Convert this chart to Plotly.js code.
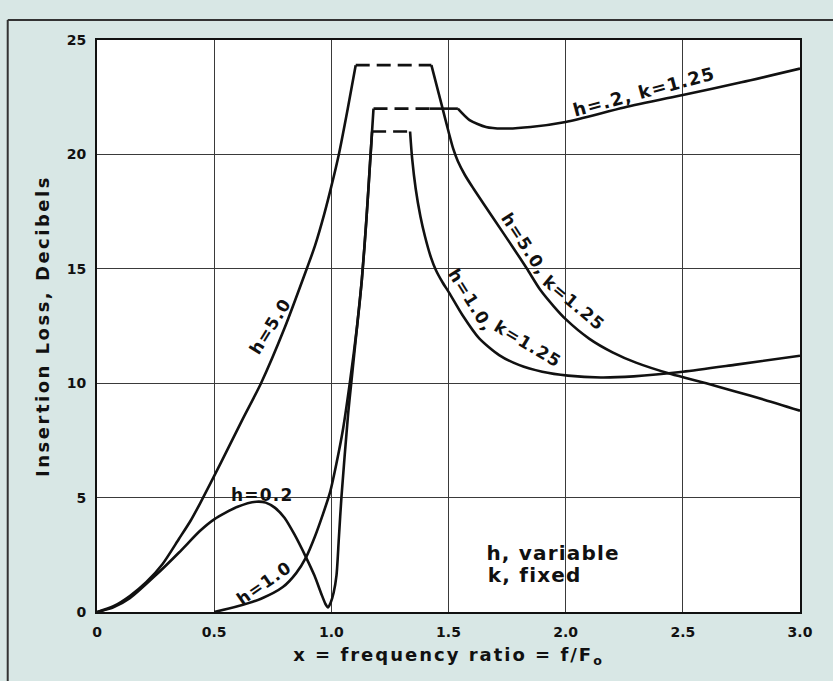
<!DOCTYPE html>
<html>
<head>
<meta charset="utf-8">
<script src="https://cdn.plot.ly/plotly-3.0.1.min.js"></script>
<style>
  html, body { margin: 0; padding: 0; background: #d8e7e5; }
  #chart { width: 833px; height: 681px; }
  #chart .ytitle { letter-spacing: 2.5px; }
  #chart .xtitle { letter-spacing: 2px; }
  #chart .annotation-text { letter-spacing: 1.2px; }
</style>
</head>
<body>
<div id="chart"></div>
<script>
// ---- Data (x = f/Fo, y = insertion loss in dB) ----
// h = 5.0, k = 1.25 : rising branch
const h5RiseX = [0, 0.07, 0.14, 0.21, 0.28, 0.35, 0.40, 0.44, 0.53, 0.62, 0.70, 0.80, 0.895, 0.93, 0.97, 1.0, 1.032, 1.07, 1.104];
const h5RiseY = [0, 0.25, 0.7, 1.3, 2.1, 3.2, 4.0, 4.75, 6.55, 8.4, 10.0, 12.4, 15.0, 16.0, 17.4, 18.6, 20.0, 22.0, 23.9];
// h = 5.0 : flat (dashed) top
const h5TopX = [1.104, 1.427];
const h5TopY = [23.9, 23.9];
// h = 5.0 : falling branch
const h5FallX = [1.427, 1.47, 1.50, 1.52, 1.54, 1.57, 1.607, 1.692, 1.778, 1.835, 1.893, 1.95, 2.0, 2.1, 2.2, 2.3, 2.45, 2.6, 2.72, 2.85, 3.0];
const h5FallY = [23.9, 22.2, 21.0, 20.25, 19.7, 19.1, 18.5, 17.2, 15.89, 15.0, 14.06, 13.35, 12.8, 11.95, 11.35, 10.9, 10.4, 10.0, 9.65, 9.27, 8.8];

// h = 1.0, k = 1.25 : rising branch
const h1RiseX = [0.5, 0.6, 0.7, 0.793, 0.85, 0.892, 0.93, 0.965, 0.995, 1.022, 1.05, 1.08, 1.11, 1.13, 1.15, 1.165, 1.174];
const h1RiseY = [0, 0.25, 0.58, 1.09, 1.7, 2.39, 3.3, 4.3, 5.25, 6.5, 8.0, 10.1, 12.5, 14.5, 17.2, 19.6, 21.0];
const h1TopX = [1.174, 1.336];
const h1TopY = [21.0, 21.0];
const h1FallX = [1.336, 1.345, 1.36, 1.38, 1.40, 1.425, 1.446, 1.475, 1.503, 1.56, 1.631, 1.716, 1.80, 1.90, 2.01, 2.15, 2.29, 2.5, 2.72, 3.0];
const h1FallY = [21.0, 19.8, 18.5, 17.3, 16.4, 15.5, 14.95, 14.4, 13.95, 12.97, 11.96, 11.23, 10.8, 10.5, 10.33, 10.25, 10.3, 10.5, 10.8, 11.2];

// h = 0.2, k = 1.25
const h02RiseX = [0, 0.07, 0.14, 0.25, 0.35, 0.44, 0.5, 0.6, 0.68, 0.72, 0.76, 0.80, 0.842, 0.892, 0.928, 0.957, 0.975, 0.986, 0.997, 1.01, 1.022, 1.032, 1.043, 1.072, 1.086, 1.11, 1.13, 1.15, 1.165, 1.18];
const h02RiseY = [0, 0.2, 0.6, 1.6, 2.6, 3.55, 4.05, 4.6, 4.82, 4.78, 4.55, 4.12, 3.4, 2.39, 1.59, 0.8, 0.35, 0.2, 0.4, 0.85, 1.6, 3.2, 5.0, 8.7, 10.1, 12.5, 14.5, 17.2, 19.6, 22.0];
const h02TopX = [1.18, 1.42];
const h02TopY = [22.0, 22.0];
const h02TailX = [1.42, 1.54, 1.59, 1.66, 1.73, 1.85, 2.0, 2.25, 2.5, 2.75, 3.0];
const h02TailY = [22.0, 22.0, 21.5, 21.2, 21.13, 21.2, 21.42, 22.05, 22.6, 23.15, 23.75];

// Axis ticks
const xTickVals = [0, 0.5, 1.0, 1.5, 2.0, 2.5, 3.0];
const xTickText = ['0', '0.5', '1.0', '1.5', '2.0', '2.5', '3.0'];
const yTickVals = [0, 5, 10, 15, 20, 25];
const yTickText = ['0', '5', '10', '15', '20', '25'];

const INK = '#111';
const LW = 2.6;
const FONT = 'DejaVu Sans, Lato, sans-serif';

function solid(x, y) {
  return { x: x, y: y, type: 'scatter', mode: 'lines', hoverinfo: 'skip',
           line: { color: INK, width: LW, shape: 'spline', smoothing: 0.7 }, showlegend: false };
}
function straight(x, y) {
  return { x: x, y: y, type: 'scatter', mode: 'lines', hoverinfo: 'skip',
           line: { color: INK, width: LW }, showlegend: false };
}
function dashed(x, y) {
  return { x: x, y: y, type: 'scatter', mode: 'lines', hoverinfo: 'skip',
           line: { color: INK, width: LW, dash: '14px,7px' }, showlegend: false };
}

const traces = [
  solid(h5RiseX, h5RiseY), dashed(h5TopX, h5TopY), solid(h5FallX, h5FallY),
  solid(h1RiseX, h1RiseY), dashed(h1TopX, h1TopY), solid(h1FallX, h1FallY),
  solid(h02RiseX, h02RiseY), dashed(h02TopX, h02TopY),
  straight(h02TailX.slice(0, 2), h02TailY.slice(0, 2)), solid(h02TailX.slice(1), h02TailY.slice(1))
];

function lab(size) { return { family: FONT, size: size, color: INK, weight: 'bold' }; }
function note(text, x, y, angle, size, extra) {
  return Object.assign({ text: text, x: x, y: y, xref: 'x', yref: 'y', showarrow: false,
                         textangle: angle, font: lab(size) }, extra || {});
}

const layout = {
  width: 833, height: 681,
  margin: { l: 97, r: 33, t: 40, b: 69 },
  paper_bgcolor: '#d8e7e5',
  plot_bgcolor: '#ffffff',
  font: { family: FONT, color: INK },
  xaxis: {
    range: [0, 3], tickvals: xTickVals, ticktext: xTickText,
    showgrid: true, gridcolor: '#3a3a3a', gridwidth: 1.3,
    showline: true, linecolor: INK, linewidth: 2, mirror: true,
    zeroline: false, ticks: '', ticklabelstandoff: 6,
    tickfont: { family: FONT, size: 14, color: INK, weight: 'bold' },
    title: { text: 'x = frequency ratio = f/F<sub>o</sub>', standoff: 10,
             font: { family: FONT, size: 18, color: INK, weight: 'bold' } }
  },
  yaxis: {
    range: [0, 25], tickvals: yTickVals, ticktext: yTickText,
    showgrid: true, gridcolor: '#3a3a3a', gridwidth: 1.3,
    showline: true, linecolor: INK, linewidth: 2, mirror: true,
    zeroline: false, ticks: '', ticklabelstandoff: 6,
    tickfont: { family: FONT, size: 14, color: INK, weight: 'bold' },
    title: { text: 'Insertion Loss, Decibels', standoff: 12,
             font: { family: FONT, size: 18, color: INK, weight: 'bold' } }
  },
  annotations: [
    note('h=5.0', 0.74, 12.5, -58, 17),
    note('h=0.2', 0.706, 5.1, 0, 17),
    note('h=1.0', 0.713, 1.27, -35, 17),
    note('h=.2, k=1.25', 2.335, 22.77, -15, 18),
    note('h=5.0,', 1.825, 16.08, 57, 17),
    note('k=1.25', 2.035, 13.5, 40, 17),
    note('h=1.0,', 1.597, 13.65, 58, 17),
    note('k=1.25', 1.84, 11.7, 31, 17),
    note('h, variable', 1.68, 2.58, 0, 20, { xanchor: 'left' }),
    note('k, fixed', 1.68, 1.62, 0, 20, { xanchor: 'left' })
  ],
  shapes: [
    { type: 'line', xref: 'paper', yref: 'paper', x0: -0.127, x1: 1.06, y0: 1.035, y1: 1.035,
      line: { color: '#333', width: 2 } },
    { type: 'line', xref: 'paper', yref: 'paper', x0: -0.127, x1: -0.127, y0: 1.035, y1: -0.13,
      line: { color: '#333', width: 2 } }
  ]
};

Plotly.newPlot('chart', traces, layout, { displayModeBar: false, staticPlot: true });
</script>
</body>
</html>
